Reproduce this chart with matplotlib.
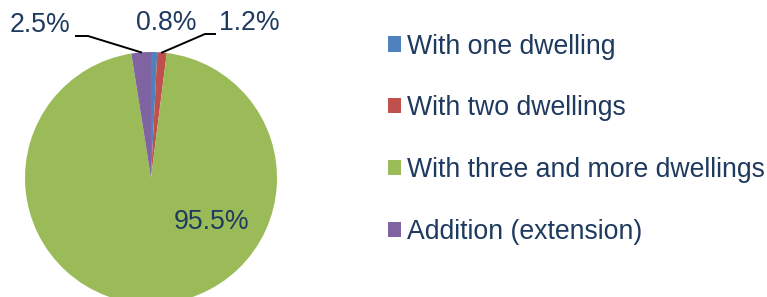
import matplotlib
matplotlib.use("Agg")

import matplotlib.pyplot as plt

plt.rcParams['font.family'] = ['Liberation Sans', 'DejaVu Sans']

# data
labels = ["With one dwelling", "With two dwellings",
          "With three and more dwellings", "Addition (extension)"]
shares = [0.8, 1.2, 95.5, 2.5]
colors = ["#4F81BD", "#C0504D", "#9BBB59", "#8064A2"]
txt = "#1F3A5F"

W, H = 767, 297
fig = plt.figure(figsize=(W / 100, H / 100), dpi=100)

# pie: centre (151,178) px, radius 126 px
cx, cy, r = 151, 178, 126
ax = fig.add_axes([(cx - r) / W, (H - cy - r) / H, 2 * r / W, 2 * r / H])
wedges, _ = ax.pie(shares, colors=colors, startangle=90, counterclock=False,
                   radius=1, wedgeprops=dict(linewidth=0))
ax.set_xlim(-1, 1)
ax.set_ylim(-1, 1)
ax.set_aspect("equal")
ax.axis("off")

def d(px, py):
    return ((px - cx) / r, (cy - py) / r)

fs = 19.2
pct = ["%.1f%%" % v for v in shares]
ax.text(*d(166, 23), pct[0], ha="center", va="center", fontsize=fs, color=txt, clip_on=False)
ax.text(*d(249, 23), pct[1], ha="center", va="center", fontsize=fs, color=txt, clip_on=False)
ax.text(*d(212, 222), pct[2], ha="center", va="center", fontsize=fs, color=txt)
ax.text(*d(40, 25), pct[3], ha="center", va="center", fontsize=fs, color=txt, clip_on=False)

# leader lines
p = [d(76, 36), d(88, 36), (-0.078, 0.997)]
ax.plot([q[0] for q in p], [q[1] for q in p], color="black", lw=1.4, clip_on=False)
p = [(0.088, 0.996), d(205, 34), d(215, 34)]
ax.plot([q[0] for q in p], [q[1] for q in p], color="black", lw=1.4, clip_on=False)

leg = fig.legend(wedges, labels, loc="upper left",
                 bbox_to_anchor=(388 / W, 1 - 33.5 / H), frameon=False,
                 fontsize=fs, labelcolor=txt, handlelength=0.5, handleheight=0.5,
                 handletextpad=0.2, labelspacing=1.34, borderpad=0, borderaxespad=0)

fig.savefig("out.png", dpi=100)
